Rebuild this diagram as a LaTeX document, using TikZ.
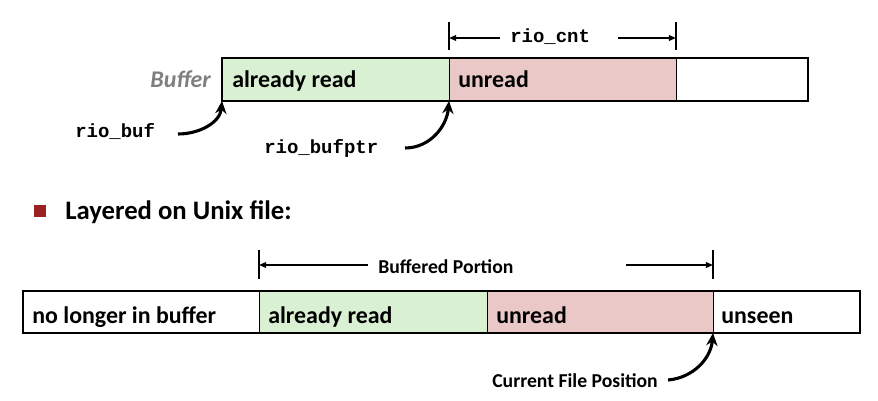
\documentclass[tikz,border=0pt]{standalone}
\usepackage{fontspec}
\setmainfont{Carlito}
\newfontfamily\codefont{Liberation Mono}
\usetikzlibrary{arrows.meta}
\definecolor{readgreen}{HTML}{D9F0D3}
\definecolor{unreadpink}{HTML}{EBC8C8}
\definecolor{bulletred}{HTML}{9C2222}
\definecolor{labelgray}{HTML}{7F7F7F}
\begin{document}
\begin{tikzpicture}[x=0.025cm,y=-0.025cm,
		divider/.style={draw=black,line width=0.7pt},
		frame/.style={draw=black,line width=1.6pt},
		celltext/.style={anchor=base west,inner sep=0pt,font=\fontsize{17}{20}\selectfont\bfseries},
		code/.style={anchor=base west,inner sep=0pt,font=\codefont\fontsize{13.5}{16}\selectfont\bfseries},
		note/.style={anchor=base west,inner sep=0pt,font=\fontsize{14}{17}\selectfont\bfseries},
		ptr/.style={-{Stealth[length=9pt,width=8pt]},line width=2.2pt},
		dim/.style={-{Triangle[length=5pt,width=4pt]},line width=1pt},
		tickline/.style={line width=1pt}]
		\useasboundingbox (0,0) rectangle (878,400);
		
		% the buffer
		\fill[readgreen] (222,58) rectangle (449,101);
		\fill[unreadpink] (449,58) rectangle (676,101);
		\draw[divider] (449,58) -- (449,101) (676,58) -- (676,101);
		\draw[frame] (222,58) rectangle (808,101);
		\coordinate (bufstart) at (222,101);
		\coordinate (bufptr) at (449,101);
		\node[celltext,text=labelgray,anchor=base east,font=\fontsize{17}{20}\selectfont\bfseries\itshape] (bufname) at (211,88) {Buffer};
		\node[celltext] (topread) at (232,88) {already read};
		\node[celltext] (topunread) at (458,88) {unread};
		
		% rio_cnt
		\coordinate (cntleft) at (449,38);
		\coordinate (cntright) at (676,38);
		\draw[tickline] (449,22) -- (449,50) (676,22) -- (676,50);
		\node[code] (riocnt) at (510,43) {rio\_cnt};
		\draw[dim] (500,38) -- (cntleft);
		\draw[dim] (618,38) -- (cntright);
		
		% pointers
		\node[code] (riobuf) at (75,138) {rio\_buf};
		\node[code] (riobufptr) at (264,153) {rio\_bufptr};
		\draw[ptr] (178,134) to[out=0,in=-95] (bufstart);
		\draw[ptr] (405,148) to[out=0,in=-95] (bufptr);
		
		% bullet
		\fill[bulletred] (34,205) rectangle (46,217);
		\node[anchor=base west,inner sep=0pt,font=\fontsize{19}{22}\selectfont\bfseries] (layered) at (65,219) {Layered on Unix file:};
		
		% the file
		\fill[readgreen] (259,291) rectangle (487,333);
		\fill[unreadpink] (487,291) rectangle (713,333);
		\draw[divider] (259,291) -- (259,333) (487,291) -- (487,333) (713,291) -- (713,333);
		\draw[frame] (23,291) rectangle (860,333);
		\coordinate (filepos) at (713,333);
		\node[celltext] (gone) at (32,323) {no longer in buffer};
		\node[celltext] (fileread) at (268,323) {already read};
		\node[celltext] (fileunread) at (496,323) {unread};
		\node[celltext] (unseen) at (721,323) {unseen};
		
		% buffered portion
		\coordinate (portleft) at (259,265);
		\coordinate (portright) at (713,265);
		\draw[tickline] (259,250) -- (259,279) (713,250) -- (713,279);
		\node[note] (portion) at (378,273) {Buffered Portion};
		\draw[dim] (368,265) -- (portleft);
		\draw[dim] (626,265) -- (portright);
		
		\node[note] (curpos) at (492,387) {Current File Position};
		\draw[ptr] (668,380) to[out=5,in=-95] (filepos);
\end{tikzpicture}
\end{document}
